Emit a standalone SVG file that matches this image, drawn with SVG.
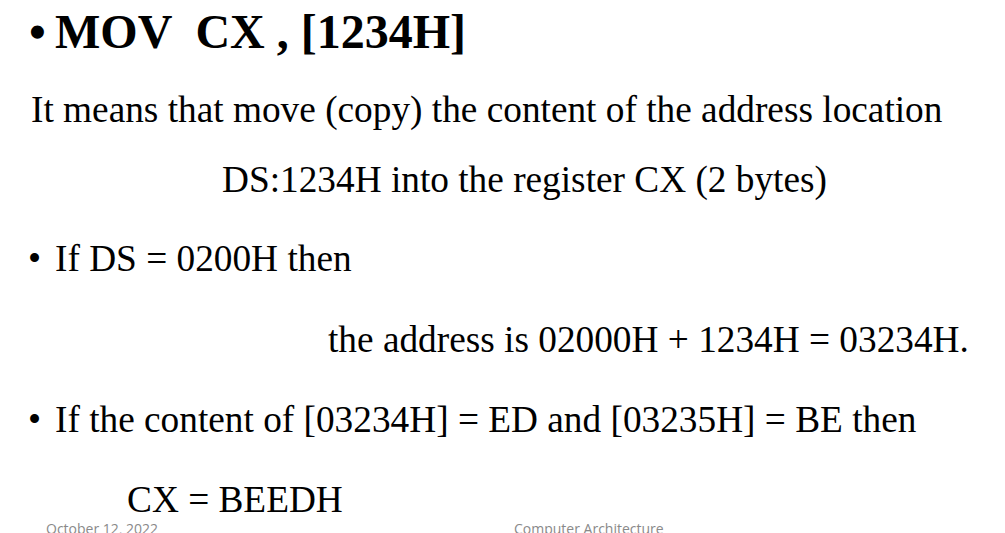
<svg xmlns="http://www.w3.org/2000/svg" width="1005" height="533" viewBox="0 0 1005 533">
<style>
.t{font-family:"Liberation Serif","Times New Roman",serif;font-size:37.3px;fill:#000}
.b{font-family:"Liberation Serif","Times New Roman",serif;font-size:48px;font-weight:bold;fill:#000}
.f{font-family:"Open Sans","Liberation Sans",sans-serif;font-size:14px;fill:#898989}
</style>
<rect width="1005" height="533" fill="#fff"/>
<g id="title">
<text class="b" x="29" y="48">•</text>
<text class="b" x="55" y="48" xml:space="preserve">MOV  CX , [1234H]</text>
</g>
<g id="body">
<text class="t" x="31" y="122">It means that move (copy) the content of the address location</text>
<text class="t" x="222" y="192">DS:1234H into the register CX (2 bytes)</text>
<text class="t" x="28" y="271">•</text>
<text class="t" x="55" y="271">If DS = 0200H then</text>
<text class="t" x="328" y="352">the address is 02000H + 1234H = 03234H.</text>
<text class="t" x="28" y="432">•</text>
<text class="t" x="55" y="432">If the content of [03234H] = ED and [03235H] = BE then</text>
<text class="t" x="127" y="512">CX = BEEDH</text>
</g>
<g id="footer">
<text class="f" x="46" y="534">October 12, 2022</text>
<text class="f" x="514" y="534">Computer Architecture</text>
</g>
</svg>
